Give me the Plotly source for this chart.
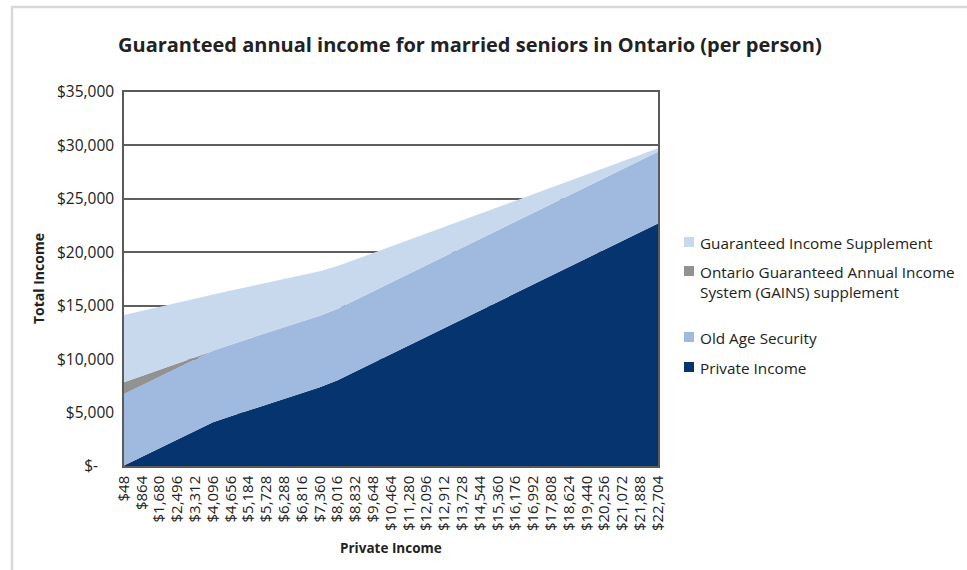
import plotly.graph_objects as go

# Private income levels along the x axis (dollars per year)
income_labels = ["$48", "$864", "$1,680", "$2,496", "$3,312", "$4,096", "$4,656", "$5,184",
                 "$5,728", "$6,288", "$6,816", "$7,360", "$8,016", "$8,832", "$9,648",
                 "$10,464", "$11,280", "$12,096", "$12,912", "$13,728", "$14,544", "$15,360",
                 "$16,176", "$16,992", "$17,808", "$18,624", "$19,440", "$20,256", "$21,072",
                 "$21,888", "$22,704"]

private_income = [48, 864, 1680, 2496, 3312, 4096, 4656, 5184, 5728, 6288, 6816, 7360, 8016,
                  8832, 9648, 10464, 11280, 12096, 12912, 13728, 14544, 15360, 16176, 16992,
                  17808, 18624, 19440, 20256, 21072, 21888, 22704]

old_age_security = [6700] * 31

gains_supplement = [1100, 880, 660, 440, 220, 0, 0, 0, 0, 0, 0, 0, 0, 0, 0, 0, 0, 0, 0, 0,
                    0, 0, 0, 0, 0, 0, 0, 0, 0, 0, 0]

income_supplement = [6280, 6076, 5872, 5668, 5464, 5268, 5078, 4898, 4713, 4523, 4343, 4158,
                     3994, 3790, 3586, 3382, 3178, 2974, 2770, 2566, 2362, 2158, 1954, 1750,
                     1546, 1342, 1138, 934, 730, 526, 322]

series_names = ["Private Income", "Old Age Security",
                "Ontario Guaranteed Annual Income<br>System (GAINS) supplement",
                "Guaranteed Income Supplement"]
series_values = [private_income, old_age_security, gains_supplement, income_supplement]
series_colors = ["#05346f", "#a0badf", "#929292", "#c8d9ee"]

y_tickvals = [0, 5000, 10000, 15000, 20000, 25000, 30000, 35000]
y_ticktext = ["$-\u00a0\u00a0\u00a0\u00a0", "$5,000", "$10,000", "$15,000", "$20,000",
              "$25,000", "$30,000", "$35,000"]

W, H = 967, 570
L, R, T, B = 124, 658, 92, 466
FONT = "Open Sans"


def px(x):
    return (x - L) / (R - L)


def py(y):
    return (B - y) / (B - T)


xs = list(range(len(income_labels)))
fig = go.Figure()
for name, vals, col in zip(series_names, series_values, series_colors):
    fig.add_trace(go.Scatter(
        x=xs, y=vals, name=name, mode="lines", stackgroup="one",
        line=dict(width=0, color=col), fillcolor=col, showlegend=False,
        hoverinfo="skip"))

shapes = []
annotations = []

# Hand-placed legend, top entry first
legend_rows = [(3, 242), (2, 271), (1, 337), (0, 367)]
for idx, yc in legend_rows:
    shapes.append(dict(type="rect", xref="paper", yref="paper",
                       x0=px(684), x1=px(694), y0=py(yc - 5), y1=py(yc + 5),
                       fillcolor=series_colors[idx], line=dict(width=0)))
    annotations.append(dict(xref="paper", yref="paper", x=px(698), y=py(yc - 11),
                            xanchor="left", yanchor="top", align="left", showarrow=False,
                            text=series_names[idx],
                            font=dict(family=FONT, size=15.3, color="#222")))

# Light outer frame
shapes.append(dict(type="path", xref="paper", yref="paper",
                   path=f"M {px(12)} {py(575)} L {px(12)} {py(7)} L {px(975)} {py(7)}",
                   line=dict(color="#d8d8d8", width=2.5)))

annotations.append(dict(xref="paper", yref="paper", x=px(470), y=py(45),
                        xanchor="center", yanchor="middle", showarrow=False,
                        text="<b>Guaranteed annual income for married seniors in Ontario (per person)</b>",
                        font=dict(family=FONT, size=20, color="#222")))
annotations.append(dict(xref="paper", yref="paper", x=px(391), y=py(548),
                        xanchor="center", yanchor="middle", showarrow=False,
                        text="<b>Private Income</b>",
                        font=dict(family=FONT, size=13.5, color="#222")))
annotations.append(dict(xref="paper", yref="paper", x=px(38), y=py(279),
                        xanchor="center", yanchor="middle", showarrow=False, textangle=-90,
                        text="<b>Total Income</b>",
                        font=dict(family=FONT, size=14, color="#222")))

fig.update_layout(
    width=W, height=H,
    margin=dict(l=L, r=W - R, t=T, b=H - B, pad=0),
    paper_bgcolor="white", plot_bgcolor="white",
    showlegend=False,
    shapes=shapes, annotations=annotations,
    font=dict(family=FONT, size=14, color="#222"),
    xaxis=dict(range=[0, len(xs) - 1], tickvals=xs, ticktext=income_labels,
               tickangle=-90, tickfont=dict(family=FONT, size=15, color="#222"),
               showgrid=False, zeroline=False, showline=True, linecolor="#5a5a5a",
               linewidth=1.5, mirror=True, ticks="", ticklen=0, ticklabelstandoff=2),
    yaxis=dict(range=[0, 35000], tickvals=y_tickvals, ticktext=y_ticktext,
               tickfont=dict(family=FONT, size=15.5, color="#222"),
               showgrid=True, gridcolor="#5e5e5e", gridwidth=1.5, zeroline=False,
               showline=True, linecolor="#5a5a5a", linewidth=1.5, mirror=True,
               ticks="", ticklen=0, ticklabelstandoff=5),
)

fig.write_html("out.html")
